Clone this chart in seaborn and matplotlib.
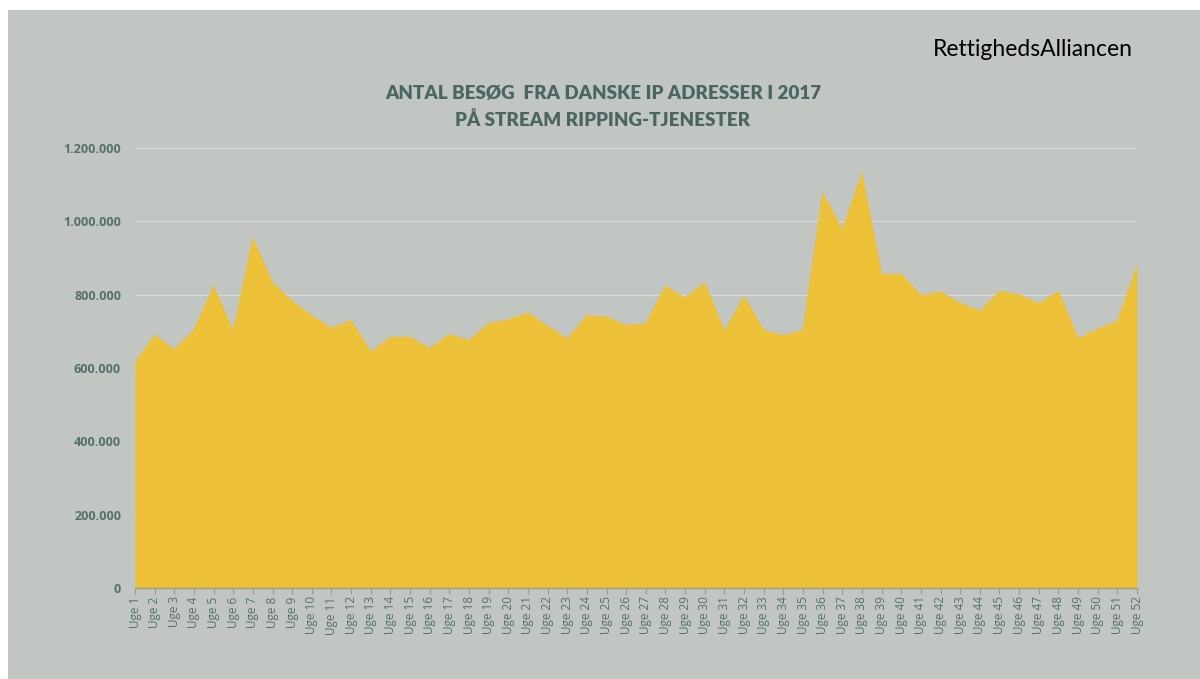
import matplotlib
matplotlib.use("Agg")
import matplotlib.pyplot as plt
import seaborn as sns
import numpy as np
import pandas as pd
from matplotlib.patches import Rectangle

weeks = [f"Uge {i}" for i in range(1, 53)]
visits = [614000, 689000, 650000, 703000, 823000, 700000, 953000, 832000, 782000, 741000,
          709000, 729000, 643000, 684000, 684000, 653000, 691000, 675000, 721000, 732000,
          750000, 714000, 679000, 743000, 739000, 716000, 721000, 823000, 791000, 832000,
          700000, 795000, 703000, 688000, 703000, 1077000, 977000, 1130000, 855000, 856000,
          798000, 807000, 777000, 755000, 809000, 800000, 775000, 809000, 680000, 706000,
          727000, 877000]
y_ticks = [0, 200000, 400000, 600000, 800000, 1000000, 1200000]
y_tick_labels = ["0", "200.000", "400.000", "600.000", "800.000", "1.000.000", "1.200.000"]
title_lines = ["ANTAL BESØG  FRA DANSKE IP ADRESSER I 2017", "PÅ STREAM RIPPING-TJENESTER"]
brand = "RettighedsAlliancen"

BG = "#c1c6c3"
FILL = "#ecc138"
TXT = "#4b6662"

sns.set_theme(style="white")
plt.rcParams['font.family'] = ['Lato', 'DejaVu Sans']

df = pd.DataFrame({"idx": np.arange(len(weeks)), "week": weeks, "visits": visits})

fig = plt.figure(figsize=(12, 6.79), dpi=100, facecolor=BG)
fig.patches.append(Rectangle((0, 1 - 10 / 679), 1, 10 / 679, transform=fig.transFigure,
                             facecolor="white", edgecolor="none", zorder=-1))
fig.patches.append(Rectangle((0, 0), 8 / 1200, 1, transform=fig.transFigure,
                             facecolor="white", edgecolor="none", zorder=-1))

ax = fig.add_axes([135 / 1200, 1 - 588 / 679, (1137 - 135) / 1200, (588 - 148) / 679])
ax.set_facecolor(BG)

ax.fill_between(df["idx"], 0, df["visits"], color=FILL, linewidth=0, zorder=2)
sns.lineplot(data=df, x="idx", y="visits", ax=ax, color=FILL, linewidth=0.8, zorder=3)

ax.set_xlim(0, len(weeks) - 1)
ax.set_ylim(0, 1200000)
ax.set_yticks(y_ticks)
ax.set_yticklabels(y_tick_labels, family=['Open Sans', 'DejaVu Sans'],
                   fontweight="bold", fontsize=9, color="#55706b")
ax.set_xticks(df["idx"])
ax.set_xticklabels(weeks, rotation=90, family=['Open Sans', 'DejaVu Sans'],
                   fontsize=8.5, color="#55706b")
ax.set_xlabel("")
ax.set_ylabel("")

ax.yaxis.grid(True, color="#d9dcda", linewidth=0.9, zorder=1)
ax.set_axisbelow(True)
for s in ["top", "right", "left"]:
    ax.spines[s].set_visible(False)
ax.spines["bottom"].set_color("#9c9a80")
ax.spines["bottom"].set_linewidth(1.0)
ax.spines["bottom"].set_zorder(4)
ax.tick_params(axis="x", which="both", bottom=True, length=4, width=0.8, color="#9c9a80", pad=2)
ax.tick_params(axis="y", which="both", left=False, length=0, pad=10)

fig.text(0.5025, 1 - 93 / 679, title_lines[0], ha="center", va="center",
         fontsize=13.5, fontweight="heavy", color=TXT)
fig.text(0.5025, 1 - 120 / 679, title_lines[1], ha="center", va="center",
         fontsize=13.5, fontweight="heavy", color=TXT)
fig.text(1133 / 1200, 1 - 50 / 679, brand, ha="right", va="center",
         fontsize=16.5, color="black")

fig.savefig("out.png", dpi=100, facecolor=BG)
